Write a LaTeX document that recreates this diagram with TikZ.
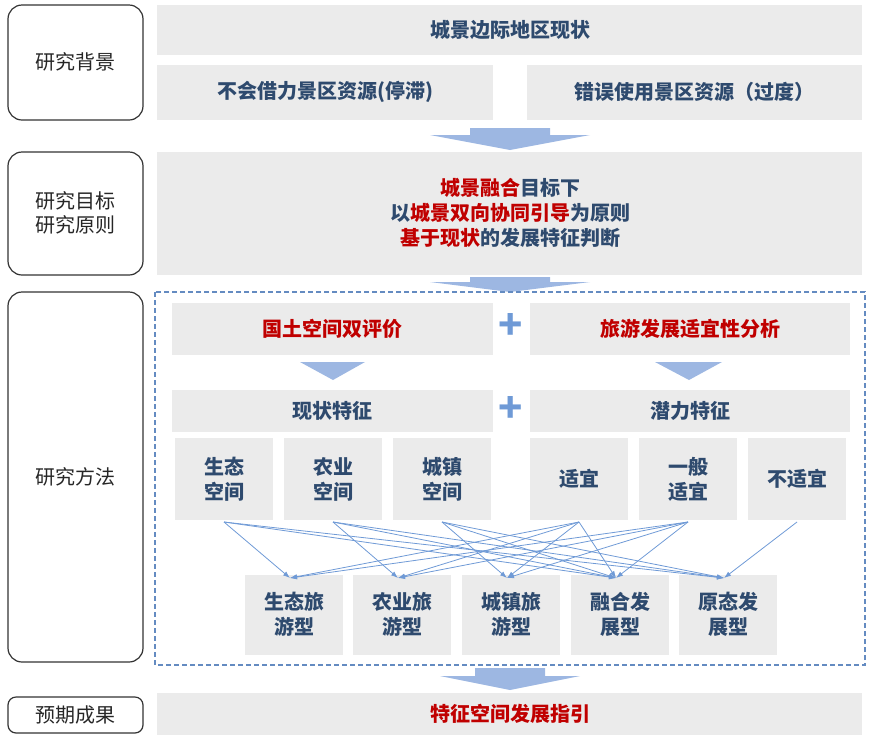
\documentclass[tikz,border=0pt]{standalone}
\usepackage{fontspec}
\setmainfont{Noto Sans CJK SC}
\usetikzlibrary{arrows.meta}
\begin{document}
\begin{tikzpicture}[x=1pt,y=-1pt,
  gbox/.style={fill=boxgray,draw=none},
  txt/.style={font=\fontsize{20}{25}\selectfont\bfseries,text=txtblue,align=center},
  ltxt/.style={font=\fontsize{20}{24}\selectfont,text=black!85,align=center},
  lbl/.style={draw=black!80,line width=1.2pt,rounded corners=14pt},
  conn/.style={draw=lineblue,line width=0.8pt,-{Latex[length=7pt,width=5pt]}}]
\definecolor{boxgray}{HTML}{EBEBEB}
\definecolor{txtblue}{HTML}{2E4A6E}
\definecolor{red1}{HTML}{C00000}
\definecolor{lineblue}{HTML}{6F9AD6}
\definecolor{arrblue}{HTML}{9DB7E2}
\useasboundingbox (0,0) rectangle (873,740);
% left labels
\draw[lbl] (8,5) rectangle (143,120); \node[ltxt] (l1) at (75,62) {研究背景};
\draw[lbl] (8,152) rectangle (143,275); \node[ltxt] (l2) at (75,213) {研究目标\\研究原则};
\draw[lbl] (8,292) rectangle (143,662); \node[ltxt] (l3) at (75,477) {研究方法};
\draw[lbl,rounded corners=8pt] (8,697) rectangle (143,733); \node[ltxt] (l4) at (75,715) {预期成果};
% background
\fill[boxgray] (157,5) rectangle (862,55); \node[txt] (a) at (510,30) {城景边际地区现状};
\fill[boxgray] (157,65) rectangle (493,120); \node[txt] (b1) at (325,92) {不会借力景区资源(停滞)};
\fill[boxgray] (527,65) rectangle (862,120); \node[txt] (b2) at (694,92) {错误使用景区资源（过度）};
\fill[arrblue] (470,128) -- (550,128) -- (550,135) -- (590,135) -- (510,150) -- (430,135) -- (470,135) -- cycle;
\fill[boxgray] (157,152) rectangle (862,275);
\node[txt] (c) at (510,213) {\textcolor{red1}{城景融合}目标下\\以\textcolor{red1}{城景双向协同引导}为原则\\\textcolor{red1}{基于现状}的发展特征判断};
\fill[arrblue] (470,277) -- (550,277) -- (550,282) -- (590,282) -- (510,292) -- (430,282) -- (470,282) -- cycle;
% method
\draw[lineblue!90!black,line width=1.3pt,dash pattern=on 5pt off 3pt] (155,292) rectangle (865,665);
\fill[boxgray] (172,303) rectangle (493,355); \node[txt,text=red1] (d1) at (332,329) {国土空间双评价};
\fill[boxgray] (530,303) rectangle (850,355); \node[txt,text=red1] (d2) at (690,329) {旅游发展适宜性分析};
\node[font=\fontsize{40}{40}\selectfont\bfseries,text=lineblue] (p1) at (511,326) {+};
\fill[arrblue] (300,362) -- (365,362) -- (333,380) -- cycle;
\fill[arrblue] (655,362) -- (722,362) -- (689,380) -- cycle;
\fill[boxgray] (172,390) rectangle (493,432); \node[txt] (e1) at (332,411) {现状特征};
\fill[boxgray] (530,390) rectangle (850,432); \node[txt] (e2) at (690,411) {潜力特征};
\node[font=\fontsize{40}{40}\selectfont\bfseries,text=lineblue] (p2) at (511,409) {+};
\foreach \n/\xa/\t in {s1/175/生态\\空间, s2/284/农业\\空间, s3/393/城镇\\空间, s4/530/适宜, s5/639/一般\\适宜, s6/748/不适宜}{
  \fill[boxgray] (\xa,438) rectangle ++(98,82);
  \node[txt] (\n) at ({\xa+49},479) {\t};
  \coordinate (\n b) at ({\xa+49},522);
}
\foreach \n/\xa/\t in {t1/245/生态旅\\游型, t2/353/农业旅\\游型, t3/462/城镇旅\\游型, t4/571/融合发\\展型, t5/679/原态发\\展型}{
  \fill[boxgray] (\xa,575) rectangle ++(98,80);
  \node[txt] (\n) at ({\xa+49},614) {\t};
  \coordinate (\n t) at ({\xa+45},578);
}
\foreach \s/\t in {s1/t1,s1/t4,s1/t5,s2/t2,s2/t4,s2/t5,s3/t3,s3/t4,s3/t5,
  s4/t1,s4/t2,s4/t3,s4/t4,s5/t1,s5/t2,s5/t3,s5/t4,s6/t5}
  \draw[conn] (\s b) -- (\t t);
% result
\fill[arrblue] (475,668) -- (545,668) -- (545,676) -- (580,676) -- (510,690) -- (440,676) -- (475,676) -- cycle;
\fill[boxgray] (157,693) rectangle (862,735); \node[txt,text=red1] (f) at (510,714) {特征空间发展指引};
\end{tikzpicture}
\end{document}
